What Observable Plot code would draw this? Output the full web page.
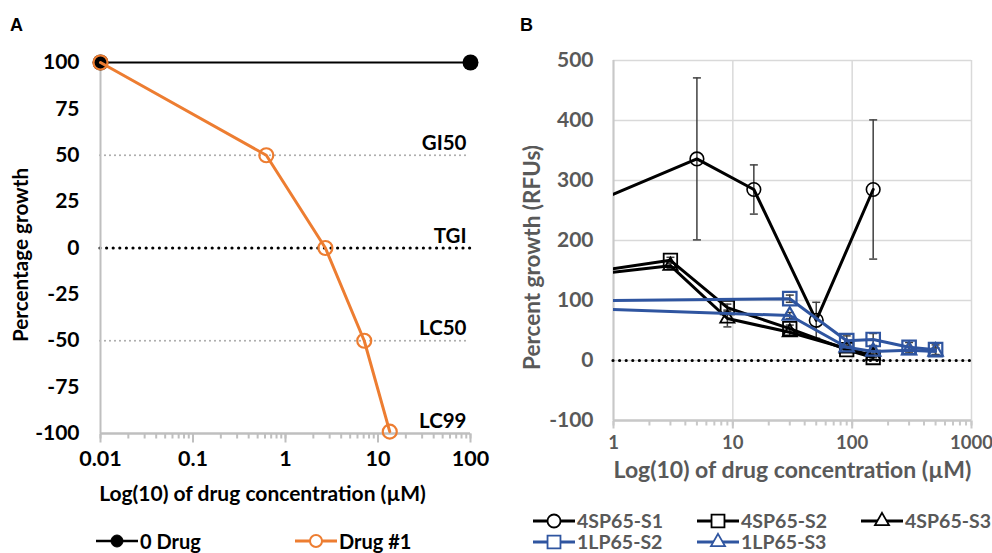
<!DOCTYPE html>
<html><head><meta charset="utf-8">
<script src="https://cdn.jsdelivr.net/npm/d3@7"></script>
<script src="https://cdn.jsdelivr.net/npm/@observablehq/plot@0.6"></script>
<style>
body{margin:0;background:#fff;}
#wrap{position:relative;width:992px;height:553px;overflow:hidden;font-family:Lato,sans-serif;font-weight:bold;}
.letter{position:absolute;font-family:"Liberation Sans",Arial,sans-serif;font-weight:bold;font-size:18px;line-height:18px;}
.leg{position:absolute;display:flex;align-items:center;white-space:nowrap;height:22px;line-height:20px;}
.leg svg{display:block;margin-right:2px;}
</style></head><body><div id="wrap"></div>
<script>
// ---------- Panel A data ----------
const concA0 = [0.01, 100];
const growthA0 = [100, 100];
const concA1 = [0.01, 0.62, 2.7, 7.1, 13.4];
const growthA1 = [100, 50, 0, -50, -99];
const refLabels = ["GI50", "TGI", "LC50", "LC99"];
const refValues = [50, 0, -50, -100];
const greyRefLevels = [50, -50];
const blackRefLevels = [0];
const xTicksA = [0.01, 0.1, 1, 10, 100];
const xTickLabelsA = ["0.01", "0.1", "1", "10", "100"];
const yTicksA = [100, 75, 50, 25, 0, -25, -50, -75, -100];
const seriesNamesA = ["0 Drug", "Drug #1"];
const xTitle = "Log(10) of drug concentration (µM)";
const yTitleA = "Percentage growth";

// ---------- Panel B data ----------
const seriesNamesB = ["4SP65-S1", "4SP65-S2", "4SP65-S3", "1LP65-S2", "1LP65-S3"];
const concS1 = [0.5, 5, 15, 50, 150];
const valS1 = [252, 336, 285, 67, 285];
const errS1 = [0, 135, 41, 30, 116];
const concS23 = [0.33, 3, 9, 30, 90, 150];
const valS2 = [139, 167, 88, 53, 18, 5];
const errS2 = [0, 5, 6, 6, 4, 3];
const valS3 = [136, 158, 70, 47, 20, 8];
const errS3 = [0, 5, 14, 6, 4, 3];
const concLP = [0.33, 30, 90, 150, 300, 500];
const valLP2 = [99, 103, 33, 35, 22, 18];
const errLP2 = [0, 6, 8, 10, 8, 8];
const valLP3 = [88, 75, 22, 15, 17, 15];
const errLP3 = [0, 5, 6, 6, 6, 6];
const xTicksB = [1, 10, 100, 1000];
const xTickLabelsB = ["1", "10", "100", "1000"];
const yTicksB = [500, 400, 300, 200, 100, 0, -100];
const yTitleB = "Percent growth (RFUs)";

// ---------- styles ----------
const ORANGE = "#ED7D31", BLUE = "#2F55A0", GREY_TXT = "#595959";
const vtick = {draw(ctx, size) { const l = Math.sqrt(size / Math.PI); ctx.moveTo(0, 0); ctx.lineTo(0, l); }};
const hcap = {draw(ctx, size) { const l = Math.sqrt(size / Math.PI); ctx.moveTo(-l, 0); ctx.lineTo(l, 0); }};
const TXT = {fontFamily: "Lato", fontWeight: "bold"};

const wrap = document.getElementById("wrap");

// ---------- Panel A ----------
const minorA = d3.scaleLog().domain([0.01, 100]).ticks();
const plotA = Plot.plot({
  width: 496, height: 515,
  marginLeft: 100, marginRight: 26, marginTop: 62, marginBottom: 82,
  x: {type: "log", domain: [0.01, 100], axis: null},
  y: {domain: [-100, 100], axis: null},
  style: {background: "transparent", overflow: "visible"},
  marks: [
    Plot.ruleY(greyRefLevels, {stroke: "#a6a6a6", strokeWidth: 2, strokeDasharray: "0,5", strokeLinecap: "round"}),
    Plot.ruleY(blackRefLevels, {stroke: "#000", strokeWidth: 3.2, strokeDasharray: "0,6.6", strokeLinecap: "round"}),
    Plot.ruleX([0.01], {stroke: "#bfbfbf", strokeWidth: 2}),
    Plot.ruleY([-100], {stroke: "#bfbfbf", strokeWidth: 2.5}),
    Plot.dot(minorA, {x: d => d, y: () => -100, symbol: vtick, r: 5, stroke: "#bfbfbf", strokeWidth: 2}),
    Plot.dot(xTicksA, {x: d => d, y: () => -100, symbol: vtick, r: 9, stroke: "#bfbfbf", strokeWidth: 2}),
    Plot.text(xTicksA, {x: d => d, frameAnchor: "bottom", dy: 32, text: (d, i) => xTickLabelsA[i], textAnchor: "middle", fontSize: 21.5, fill: "#000", ...TXT}),
    Plot.text(yTicksA, {y: d => d, frameAnchor: "left", dx: -21, textAnchor: "end", text: d => String(d), fontSize: 21, fill: "#000", ...TXT}),
    Plot.text(refLabels, {y: (d, i) => refValues[i], frameAnchor: "right", dx: -4, dy: -12, textAnchor: "end", fontSize: 20.5, fill: "#000", ...TXT}),
    Plot.text([yTitleA], {frameAnchor: "left", dx: -79, dy: 7, rotate: -90, textAnchor: "middle", fontSize: 20.7, fill: "#000", ...TXT}),
    Plot.text([xTitle], {frameAnchor: "bottom", dx: -23, dy: 67, textAnchor: "middle", fontSize: 21, fill: "#000", ...TXT}),
    Plot.line(growthA0, {x: (d, i) => concA0[i], y: d => d, stroke: "#000", strokeWidth: 1.8}),
    Plot.dot(growthA0, {x: (d, i) => concA0[i], y: d => d, r: 8, fill: "#000", stroke: "none"}),
    Plot.line(growthA1, {x: (d, i) => concA1[i], y: d => d, stroke: ORANGE, strokeWidth: 3}),
    Plot.dot(growthA1, {x: (d, i) => concA1[i], y: d => d, r: 7, fill: "none", stroke: ORANGE, strokeWidth: 2.2})
  ]
});
plotA.style.position = "absolute"; plotA.style.left = "0px"; plotA.style.top = "0px";
wrap.appendChild(plotA);

// ---------- Panel B ----------
const minorB = d3.scaleLog().domain([1, 1000]).ticks();
const seriesB = [
  {conc: concS1, val: valS1, err: errS1, color: "#000", symbol: "circle", r: 6.8, sw: 1.6},
  {conc: concS23, val: valS2, err: errS2, color: "#000", symbol: "square", r: 7.6, sw: 1.8},
  {conc: concS23, val: valS3, err: errS3, color: "#000", symbol: "triangle", r: 5.3, sw: 1.8},
  {conc: concLP, val: valLP2, err: errLP2, color: BLUE, symbol: "square", r: 7.6, sw: 2.2},
  {conc: concLP, val: valLP3, err: errLP3, color: BLUE, symbol: "triangle", r: 5.3, sw: 2.2}
];
const seriesMarks = [];
seriesB.forEach(s => {
  const idx = d3.range(s.val.length).filter(i => s.err[i] > 0);
  seriesMarks.push(Plot.ruleX(idx, {x: i => s.conc[i], y1: i => s.val[i] - s.err[i], y2: i => s.val[i] + s.err[i], stroke: "#404040", strokeWidth: 1.5, clip: true}));
  seriesMarks.push(Plot.dot(idx, {x: i => s.conc[i], y: i => s.val[i] + s.err[i], symbol: hcap, r: 4, stroke: "#404040", strokeWidth: 1.5, clip: true}));
  seriesMarks.push(Plot.dot(idx, {x: i => s.conc[i], y: i => s.val[i] - s.err[i], symbol: hcap, r: 4, stroke: "#404040", strokeWidth: 1.5, clip: true}));
});
seriesB.forEach(s => {
  seriesMarks.push(Plot.line(s.val, {x: (d, i) => s.conc[i], y: d => d, stroke: s.color, strokeWidth: 3, clip: true}));
  seriesMarks.push(Plot.dot(s.val, {x: (d, i) => s.conc[i], y: d => d, symbol: s.symbol, r: s.r, fill: "none", stroke: s.color, strokeWidth: s.sw, clip: true}));
});

const plotB = Plot.plot({
  width: 496, height: 500,
  marginLeft: 117, marginRight: 21, marginTop: 60, marginBottom: 80,
  x: {type: "log", domain: [1, 1000], axis: null},
  y: {domain: [-100, 500], axis: null},
  style: {background: "transparent", overflow: "visible"},
  marks: [
    Plot.ruleY(yTicksB, {stroke: "#d9d9d9", strokeWidth: 1.5}),
    Plot.ruleX(xTicksB, {stroke: "#d9d9d9", strokeWidth: 1.5}),
    Plot.ruleX([1], {stroke: "#c8c8c8", strokeWidth: 2}),
    Plot.ruleY([-100], {stroke: "#c8c8c8", strokeWidth: 2.5}),
    Plot.dot(minorB, {x: d => d, y: () => -100, symbol: vtick, r: 5, stroke: "#c8c8c8", strokeWidth: 2}),
    Plot.dot(xTicksB, {x: d => d, y: () => -100, symbol: vtick, r: 8, stroke: "#c8c8c8", strokeWidth: 2}),
    Plot.ruleY([0], {stroke: "#000", strokeWidth: 3.2, strokeDasharray: "0,6.6", strokeLinecap: "round"}),
    Plot.text(xTicksB, {x: d => d, frameAnchor: "bottom", dy: 28, text: (d, i) => xTickLabelsB[i], textAnchor: "middle", fontSize: 18.5, fill: GREY_TXT, ...TXT}),
    Plot.text(yTicksB, {y: d => d, frameAnchor: "left", dx: -20, textAnchor: "end", text: d => String(d), fontSize: 21, fill: GREY_TXT, ...TXT}),
    Plot.text([yTitleB], {frameAnchor: "left", dx: -81, dy: 17, rotate: -90, textAnchor: "middle", fontSize: 22.5, fill: GREY_TXT, ...TXT}),
    Plot.text([xTitle], {frameAnchor: "bottom", dy: 57, textAnchor: "middle", fontSize: 23, fill: GREY_TXT, ...TXT}),
    ...seriesMarks
  ]
});
plotB.style.position = "absolute"; plotB.style.left = "496px"; plotB.style.top = "0px";
wrap.appendChild(plotB);

// ---------- panel letters ----------
[["A", 10], ["B", 520]].forEach(([t, x]) => {
  const d = document.createElement("div");
  d.className = "letter"; d.textContent = t; d.style.left = x + "px"; d.style.top = "16px";
  wrap.appendChild(d);
});

// ---------- legends ----------
function legendItem(x, yc, name, color, symbol, r, filled, textColor, fontSize, sw, lineW) {
  const div = document.createElement("div");
  div.className = "leg";
  div.style.left = x + "px"; div.style.top = (yc - 11) + "px";
  div.style.color = textColor; div.style.fontSize = fontSize + "px";
  const w = 42;
  const path = d3.symbol(symbol, Math.PI * r * r)();
  div.innerHTML = `<svg width="${w}" height="22"><line x1="0" x2="${w}" y1="11" y2="11" stroke="${color}" stroke-width="${lineW}"/>` +
    `<path d="${path}" transform="translate(${w/2},11)" fill="${filled ? color : "#fff"}" stroke="${color}" stroke-width="${sw}"/></svg><span>${name}</span>`;
  wrap.appendChild(div);
}
legendItem(96, 541, seriesNamesA[0], "#000", d3.symbolCircle, 6, true, "#000", 20, 1, 2.5);
legendItem(295, 541, seriesNamesA[1], ORANGE, d3.symbolCircle, 6, false, "#000", 20, 2, 3);

const legSym = [d3.symbolCircle, d3.symbolSquare, d3.symbolTriangle, d3.symbolSquare, d3.symbolTriangle];
const legR = [6.5, 7.3, 5.2, 7.3, 5.2];
const legPos = [[533, 521], [697, 521], [861, 521], [533, 542], [697, 542]];
seriesNamesB.forEach((n, i) => {
  legendItem(legPos[i][0], legPos[i][1], n, seriesB[i].color, legSym[i], legR[i], false, GREY_TXT, 19.5, 1.8, 3);
});
</script></body></html>
